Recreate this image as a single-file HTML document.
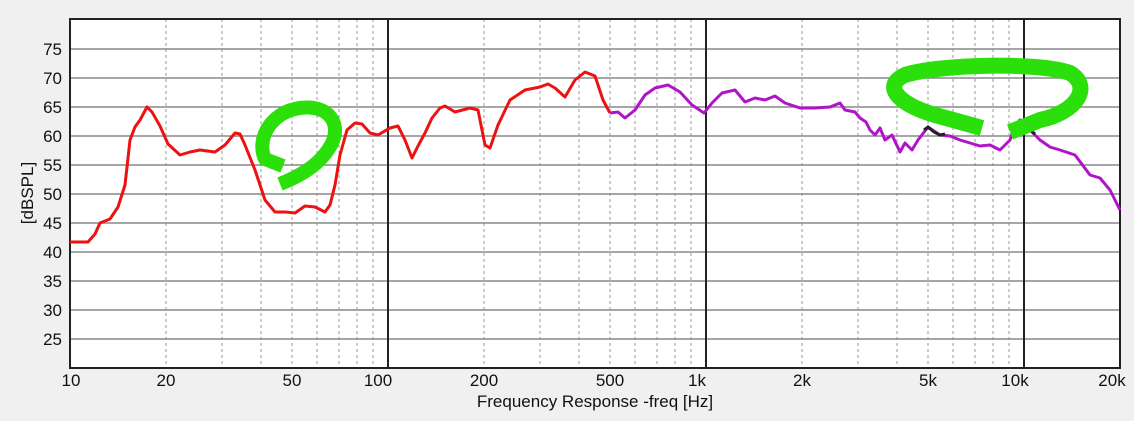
<!DOCTYPE html>
<html><head><style>
html,body{margin:0;padding:0;background:#f0f0f0;}
svg{display:block;font-family:"Liberation Sans",sans-serif;}
</style></head><body>
<svg width="1134" height="421" xmlns="http://www.w3.org/2000/svg">
<rect x="0" y="0" width="1134" height="421" fill="#f0f0f0"/>
<rect x="70" y="19" width="1050" height="349" fill="#fff"/>
<g stroke="#999" stroke-width="1" stroke-dasharray="3,3">
<line x1="166" y1="19" x2="166" y2="368"/><line x1="222" y1="19" x2="222" y2="368"/><line x1="261" y1="19" x2="261" y2="368"/><line x1="292" y1="19" x2="292" y2="368"/><line x1="317" y1="19" x2="317" y2="368"/><line x1="339" y1="19" x2="339" y2="368"/><line x1="357" y1="19" x2="357" y2="368"/><line x1="373" y1="19" x2="373" y2="368"/>
<line x1="484" y1="19" x2="484" y2="368"/><line x1="540" y1="19" x2="540" y2="368"/><line x1="579" y1="19" x2="579" y2="368"/><line x1="610" y1="19" x2="610" y2="368"/><line x1="635" y1="19" x2="635" y2="368"/><line x1="657" y1="19" x2="657" y2="368"/><line x1="675" y1="19" x2="675" y2="368"/><line x1="691" y1="19" x2="691" y2="368"/>
<line x1="802" y1="19" x2="802" y2="368"/><line x1="858" y1="19" x2="858" y2="368"/><line x1="897" y1="19" x2="897" y2="368"/><line x1="928" y1="19" x2="928" y2="368"/><line x1="953" y1="19" x2="953" y2="368"/><line x1="975" y1="19" x2="975" y2="368"/><line x1="993" y1="19" x2="993" y2="368"/><line x1="1009" y1="19" x2="1009" y2="368"/>
</g>
<g stroke="#888" stroke-width="1.5">
<line x1="70" y1="49" x2="1120" y2="49"/><line x1="70" y1="78" x2="1120" y2="78"/><line x1="70" y1="107" x2="1120" y2="107"/><line x1="70" y1="136" x2="1120" y2="136"/><line x1="70" y1="165" x2="1120" y2="165"/><line x1="70" y1="194" x2="1120" y2="194"/><line x1="70" y1="223" x2="1120" y2="223"/><line x1="70" y1="252" x2="1120" y2="252"/><line x1="70" y1="281" x2="1120" y2="281"/><line x1="70" y1="310" x2="1120" y2="310"/><line x1="70" y1="339" x2="1120" y2="339"/>
</g>
<g stroke="#222" stroke-width="2">
<line x1="388" y1="19" x2="388" y2="368"/><line x1="706" y1="19" x2="706" y2="368"/><line x1="1024" y1="19" x2="1024" y2="368"/>
</g>
<rect x="70" y="19" width="1050" height="349" fill="none" stroke="#222" stroke-width="2"/>
<polyline fill="none" stroke="#ee1111" stroke-width="3" stroke-linejoin="round" points="70,242 80,242 88,242 95,234 100,223 110,219 118,207 125,185 130,140 135,127 140,120 147,107 152,112 160,126 168,144 180,155 190,152 200,150 215,152 225,145 235,133 240,134 245,145 255,170 265,200 275,212 285,212 295,213 305,206 315,207 325,212 330,205 335,185 340,155 347,130 355,123 362,124 370,133 378,135 390,128 398,126 405,140 412,158 418,146 425,133 432,118 440,108 445,106 455,112 470,108 478,110 485,145 490,148 498,125 510,100 525,90 540,87 548,84 555,88 565,97 575,80 585,72 595,76 603,100 610,113"/>
<polyline fill="none" stroke="#b014c8" stroke-width="3" stroke-linejoin="round" points="610,113 618,112 625,118 635,110 645,95 655,88 668,85 680,92 692,105 704,113 712,103 722,93 735,90 745,102 755,98 765,100 775,96 785,103 800,108 815,108 830,107 840,103 845,110 855,112 860,118 866,122 870,130 875,135 880,128 885,140 892,135 900,152 905,143 912,150 918,140 928,127 940,135 950,136 960,140 970,143 980,146 990,145 1000,150 1010,140 1015,125 1020,120 1030,130 1040,140 1050,147 1060,150 1075,155 1090,175 1100,178 1110,190 1120,210"/>
<polyline fill="none" stroke="#222" stroke-width="3" points="924,130 928,127 934,132 940,135 945,134"/>
<polyline fill="none" stroke="#222" stroke-width="3" points="1022,121 1030,130 1035,134"/>
<g fill="none" stroke="#2adf0a" stroke-linecap="butt" stroke-linejoin="round">
<path stroke-width="14" d="M283,166 L265,159 C256,140 270,112 300,108 C330,104 342,125 331,145 C320,165 300,176 280,184"/>
<path stroke-width="16" d="M982,128 L935,115 C895,103 883,85 905,75 C940,64 1040,62 1070,73 C1092,86 1078,112 1040,120 L1010,132"/>
</g>
<g font-size="17" fill="#111" text-anchor="end">
<text x="62" y="55">75</text><text x="62" y="84">70</text><text x="62" y="113">65</text><text x="62" y="142">60</text><text x="62" y="171">55</text><text x="62" y="200">50</text><text x="62" y="229">45</text><text x="62" y="258">40</text><text x="62" y="287">35</text><text x="62" y="316">30</text><text x="62" y="345">25</text>
</g>
<g font-size="17" fill="#111" text-anchor="middle">
<text x="71" y="386">10</text><text x="166" y="386">20</text><text x="292" y="386">50</text><text x="378" y="386">100</text><text x="484" y="386">200</text><text x="610" y="386">500</text><text x="697" y="386">1k</text><text x="802" y="386">2k</text><text x="928" y="386">5k</text><text x="1015" y="386">10k</text><text x="1112" y="386">20k</text>
</g>
<text x="595" y="407" font-size="17" fill="#111" text-anchor="middle">Frequency Response -freq [Hz]</text>
<text transform="translate(33,193) rotate(-90)" font-size="17" fill="#111" text-anchor="middle">[dBSPL]</text>
</svg>
</body></html>
